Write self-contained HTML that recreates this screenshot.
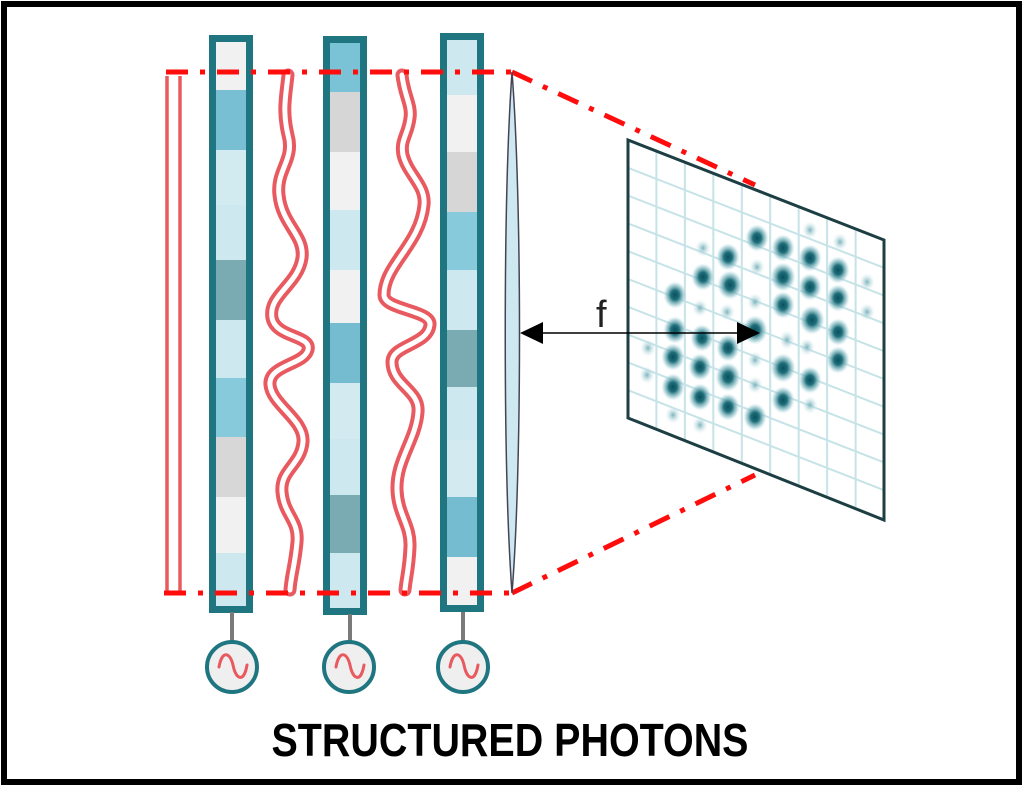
<!DOCTYPE html>
<html><head><meta charset="utf-8"><style>
html,body{margin:0;padding:0;background:#fff;}
svg{display:block;}
</style></head><body>
<svg width="1024" height="797" viewBox="0 0 1024 797" xmlns="http://www.w3.org/2000/svg">
<defs>
<radialGradient id="sp"><stop offset="0" stop-color="#0a4f5c"/><stop offset="0.35" stop-color="#1f6f7b"/><stop offset="0.75" stop-color="#8fc3cb" stop-opacity="0.6"/><stop offset="1" stop-color="#dff0f3" stop-opacity="0"/></radialGradient>
<radialGradient id="sl"><stop offset="0" stop-color="#7ab3bc"/><stop offset="1" stop-color="#dff0f3" stop-opacity="0"/></radialGradient>
</defs>
<rect x="0" y="0" width="1024" height="797" fill="#fff"/>
<rect x="4" y="4" width="1015" height="778" fill="none" stroke="#000" stroke-width="6"/>

<g stroke="#e85a5f" stroke-width="3.5" fill="none">
<line x1="167" y1="76" x2="167" y2="593"/>
<line x1="180" y1="76" x2="180" y2="593"/>
</g>

<g fill="none" stroke-linejoin="round" stroke-linecap="round">
<path id="w1" d="M288,75 C286,95 282,110 288,135 C295,160 276,170 279,195 C282,225 305,235 302,258 C298,285 268,295 272,318 C276,338 312,335 308,350 C304,365 268,365 270,385 C272,405 305,420 303,442 C301,465 280,470 282,492 C284,515 299,520 297,542 C295,565 291,575 290,590" stroke="#e85a5f" stroke-width="13"/>
<path d="M288,75 C286,95 282,110 288,135 C295,160 276,170 279,195 C282,225 305,235 302,258 C298,285 268,295 272,318 C276,338 312,335 308,350 C304,365 268,365 270,385 C272,405 305,420 303,442 C301,465 280,470 282,492 C284,515 299,520 297,542 C295,565 291,575 290,590" stroke="#fff" stroke-width="5"/>
<path d="M402,75 C404,95 412,105 410,118 C408,135 400,140 403,155 C408,175 426,185 424,205 C420,245 384,265 384,295 C384,310 432,310 430,325 C428,345 392,345 392,362 C392,385 420,390 418,412 C416,440 396,460 397,490 C398,515 411,525 410,547 C409,570 406,578 405,590" stroke="#e85a5f" stroke-width="13"/>
<path d="M402,75 C404,95 412,105 410,118 C408,135 400,140 403,155 C408,175 426,185 424,205 C420,245 384,265 384,295 C384,310 432,310 430,325 C428,345 392,345 392,362 C392,385 420,390 418,412 C416,440 396,460 397,490 C398,515 411,525 410,547 C409,570 406,578 405,590" stroke="#fff" stroke-width="5"/>
</g>

<g>
<rect x="212" y="38" width="38" height="571" fill="#cde9ef"/>
<rect x="212" y="38" width="38" height="52" fill="#f1f1f1"/>
<rect x="212" y="90" width="38" height="60" fill="#78bfd3"/>
<rect x="212" y="150" width="38" height="55" fill="#d2ebf0"/>
<rect x="212" y="260" width="38" height="60" fill="#7aabb2"/>
<rect x="212" y="378" width="38" height="59" fill="#86cadc"/>
<rect x="212" y="437" width="38" height="60" fill="#d7d7d7"/>
<rect x="212" y="497" width="38" height="56" fill="#f1f1f1"/>
<rect x="212.5" y="38.5" width="37" height="571" fill="none" stroke="#1f7580" stroke-width="7"/>

<rect x="326" y="39" width="38" height="573" fill="#cde9ef"/>
<rect x="326" y="39" width="38" height="53" fill="#7ac2d6"/>
<rect x="326" y="92" width="38" height="60" fill="#d6d6d6"/>
<rect x="326" y="152" width="38" height="58" fill="#f1f1f1"/>
<rect x="326" y="270" width="38" height="53" fill="#f1f1f1"/>
<rect x="326" y="323" width="38" height="60" fill="#76bcd1"/>
<rect x="326" y="383" width="38" height="56" fill="#d3ebf0"/>
<rect x="326" y="495" width="38" height="58" fill="#7aabb2"/>
<rect x="326.5" y="39.5" width="37" height="572" fill="none" stroke="#1f7580" stroke-width="7"/>

<rect x="443" y="36" width="38" height="573" fill="#cde9ef"/>
<rect x="443" y="95" width="38" height="57" fill="#f1f1f1"/>
<rect x="443" y="152" width="38" height="60" fill="#d6d6d6"/>
<rect x="443" y="212" width="38" height="58" fill="#86cadc"/>
<rect x="443" y="330" width="38" height="57" fill="#7aabb2"/>
<rect x="443" y="440" width="38" height="57" fill="#d3ebf0"/>
<rect x="443" y="497" width="38" height="60" fill="#76bcd1"/>
<rect x="443" y="557" width="38" height="52" fill="#f1f1f1"/>
<rect x="443.5" y="36.5" width="37" height="572" fill="none" stroke="#1f7580" stroke-width="7"/>
</g>

<g stroke="#ff0d0d" stroke-width="5" fill="none" stroke-dasharray="22,12,5,12">
<line x1="166" y1="72" x2="512" y2="72"/>
<line x1="164" y1="593" x2="512" y2="593"/>
<line x1="512" y1="72" x2="755" y2="185"/>
<line x1="512" y1="593" x2="755" y2="475"/>
</g>

<path d="M512,72 C522,200 522,470 512,593 C503,470 503,200 512,72 Z" fill="#cde8f0" stroke="#445" stroke-width="1.5"/>

<polygon points="628,140 884,240 884,520 628,418" fill="#fff"/>
<g stroke="#c6e3e8" stroke-width="2">
<line x1="656.4" y1="151.1" x2="656.4" y2="429.1"/>
<line x1="684.9" y1="162.2" x2="684.9" y2="440.2"/>
<line x1="713.3" y1="173.3" x2="713.3" y2="451.3"/>
<line x1="741.8" y1="184.4" x2="741.8" y2="462.4"/>
<line x1="770.2" y1="195.6" x2="770.2" y2="473.6"/>
<line x1="798.7" y1="206.7" x2="798.7" y2="484.7"/>
<line x1="827.1" y1="217.8" x2="827.1" y2="495.8"/>
<line x1="855.6" y1="228.9" x2="855.6" y2="506.9"/>
<line x1="628" y1="167.8" x2="884" y2="267.8"/>
<line x1="628" y1="195.6" x2="884" y2="295.6"/>
<line x1="628" y1="223.4" x2="884" y2="323.4"/>
<line x1="628" y1="251.2" x2="884" y2="351.2"/>
<line x1="628" y1="279" x2="884" y2="379"/>
<line x1="628" y1="306.8" x2="884" y2="406.8"/>
<line x1="628" y1="334.6" x2="884" y2="434.6"/>
<line x1="628" y1="362.4" x2="884" y2="462.4"/>
<line x1="628" y1="390.2" x2="884" y2="490.2"/>
</g>
<g fill="url(#sp)">
<ellipse cx="757" cy="238" rx="12" ry="14"/><ellipse cx="783" cy="248" rx="12" ry="14"/>
<ellipse cx="810" cy="258" rx="12" ry="14"/><ellipse cx="838" cy="270" rx="12" ry="14"/>
<ellipse cx="728" cy="257" rx="12" ry="14"/><ellipse cx="703" cy="277" rx="12" ry="14"/>
<ellipse cx="730" cy="285" rx="13" ry="15"/><ellipse cx="783" cy="277" rx="13" ry="15"/>
<ellipse cx="810" cy="287" rx="12" ry="14"/><ellipse cx="838" cy="298" rx="12" ry="14"/>
<ellipse cx="675" cy="295" rx="12" ry="14"/><ellipse cx="783" cy="305" rx="12" ry="14"/>
<ellipse cx="812" cy="320" rx="13" ry="15"/><ellipse cx="838" cy="332" rx="12" ry="14"/>
<ellipse cx="755" cy="330" rx="13" ry="15"/><ellipse cx="675" cy="330" rx="12" ry="14"/>
<ellipse cx="702" cy="338" rx="12" ry="14"/><ellipse cx="728" cy="348" rx="12" ry="14"/>
<ellipse cx="673" cy="357" rx="12" ry="14"/><ellipse cx="700" cy="367" rx="12" ry="14"/>
<ellipse cx="728" cy="377" rx="13" ry="15"/><ellipse cx="783" cy="368" rx="13" ry="15"/>
<ellipse cx="810" cy="380" rx="12" ry="14"/><ellipse cx="838" cy="360" rx="12" ry="14"/>
<ellipse cx="673" cy="387" rx="12" ry="14"/><ellipse cx="700" cy="397" rx="12" ry="14"/>
<ellipse cx="728" cy="407" rx="12" ry="14"/><ellipse cx="783" cy="400" rx="12" ry="14"/>
<ellipse cx="755" cy="417" rx="12" ry="14"/>
</g>
<g fill="url(#sl)">
<ellipse cx="703" cy="248" rx="8" ry="9"/><ellipse cx="757" cy="267" rx="8" ry="9"/>
<ellipse cx="867" cy="282" rx="8" ry="9"/><ellipse cx="867" cy="312" rx="8" ry="9"/>
<ellipse cx="648" cy="348" rx="8" ry="9"/><ellipse cx="647" cy="375" rx="8" ry="9"/>
<ellipse cx="755" cy="385" rx="8" ry="9"/><ellipse cx="807" cy="347" rx="8" ry="9"/>
<ellipse cx="787" cy="340" rx="8" ry="10"/><ellipse cx="700" cy="425" rx="8" ry="9"/>
<ellipse cx="673" cy="415" rx="8" ry="9"/><ellipse cx="810" cy="405" rx="8" ry="9"/>
<ellipse cx="810" cy="230" rx="8" ry="9"/><ellipse cx="840" cy="242" rx="8" ry="9"/>
<ellipse cx="727" cy="312" rx="8" ry="9"/><ellipse cx="700" cy="308" rx="8" ry="9"/>
<ellipse cx="755" cy="360" rx="8" ry="9"/><ellipse cx="755" cy="302" rx="8" ry="9"/>
</g>
<polygon points="628,140 884,240 884,520 628,418" fill="none" stroke="#1d3f44" stroke-width="3"/>

<line x1="535" y1="333" x2="740" y2="333" stroke="#000" stroke-width="1.5"/>
<polygon points="520,333 543,322 543,344" fill="#000"/>
<polygon points="760,333 737,322 737,344" fill="#000"/>
<text x="596" y="327" font-family="Liberation Sans, sans-serif" font-size="38" fill="#222">f</text>

<g stroke="#7a7a7a" stroke-width="4">
<line x1="232" y1="612" x2="232" y2="643"/>
<line x1="350" y1="614" x2="350" y2="643"/>
<line x1="463" y1="612" x2="463" y2="643"/>
</g>
<g fill="#efefef" stroke="#1f7580" stroke-width="4">
<circle cx="232" cy="667" r="25"/><circle cx="349" cy="667" r="25"/><circle cx="463" cy="667" r="25"/>
</g>
<g fill="none" stroke="#e85a5f" stroke-width="3" stroke-linecap="round">
<path d="M219,667 C222,650 230,652 233,665 C236,680 244,683 247,665"/>
<path d="M336,667 C339,650 347,652 350,665 C353,680 361,683 364,665"/>
<path d="M450,667 C453,650 461,652 464,665 C467,680 475,683 478,665"/>
</g>

<text x="510" y="756" text-anchor="middle" font-family="Liberation Sans, sans-serif" font-weight="bold" font-size="46" textLength="477" lengthAdjust="spacingAndGlyphs" fill="#000">STRUCTURED PHOTONS</text>
</svg>
</body></html>
